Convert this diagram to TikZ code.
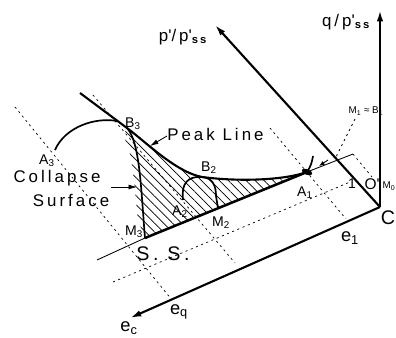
\documentclass[tikz,border=0pt]{standalone}
\usepackage{fontspec}
\setmainfont{Liberation Sans}
\newfontfamily\spacedfont[LetterSpace=18]{Liberation Sans}
\usetikzlibrary{arrows.meta,patterns.meta}

\begin{document}
\begin{tikzpicture}[x=0.025cm, y=-0.025cm, >={Latex[length=8pt,width=4.5pt]},
    axisline/.style={line width=1.5pt, ->},
    ssline/.style={line width=1.8pt},
    thinline/.style={line width=0.6pt},
    guide/.style={line width=0.5pt, dash pattern=on 1.5pt off 2.5pt},
    pathline/.style={line width=1.2pt},
    hatch/.style={pattern={Lines[angle=-45, distance=4.5pt, line width=0.5pt]}},
    txt/.style={inner sep=0pt, font=\spacedfont\fontsize{12}{14}\selectfont},
    lbl/.style={inner sep=0pt, font=\fontsize{10}{12}\selectfont}]
    \useasboundingbox (0,0) rectangle (396,337);

    % axes
    \coordinate (C) at (380,207);
    \coordinate (qtip) at (380,10);
    \coordinate (ptip) at (215,25);
    \coordinate (etip) at (130,318);
    % stress path points
    \coordinate (PL) at (80,93);
    \coordinate (B3) at (127,128);
    \coordinate (A3) at (55,150);
    \coordinate (A3end) at (117,121);
    \coordinate (B2) at (202,177);
    \coordinate (A2) at (183,200);
    \coordinate (M3) at (145,238);
    \coordinate (M2) at (218,208);
    \coordinate (A1) at (307,172);
    \coordinate (A1top) at (313,156);
    \coordinate (SSa) at (97,260);
    \coordinate (SSb) at (353,154);

    \fill[hatch] (B3) .. controls (147,143) and (176,172) .. (B2)
        .. controls (240,182) and (285,180) .. (A1) -- (M3)
        .. controls (141,190) and (140,142) .. (B3) -- cycle;
    \fill[hatch] (B3) .. controls (140,142) and (141,190) .. (M3)
        -- (138,220) .. controls (134,185) and (133,150) .. (123,136) -- cycle;

    \draw[guide] (15,107) -- (172,300);
    \draw[guide] (93,95) -- (235,263);
    \draw[guide] (113,282) -- (350,182);
    \draw[guide] (270,128) -- (346,219);
    \draw[guide] (355,119) -- (336,157);
    \draw[guide] (SSb) -- (372,177);

    \draw[axisline] (C) -- (qtip);
    \draw[axisline] (C) -- (ptip);
    \draw[axisline] (C) -- (etip);

    \draw[thinline] (SSa) -- (M3);
    \draw[thinline] (A1) -- (SSb);
    \draw[ssline] (M3) -- (A1);

    \draw[pathline, line width=1.5pt] (PL) -- (B3) .. controls (147,143) and (176,172) .. (B2)
        .. controls (240,182) and (285,180) .. (A1);
    \draw[pathline] (B3) .. controls (140,142) and (141,190) .. (M3);
    \draw[pathline] (A3) .. controls (65,127) and (95,117) .. (A3end);
    \draw[pathline] (A2) .. controls (181,183) and (188,176) .. (B2)
        .. controls (213,178) and (216,186) .. (216,196) -- (M2);
    \fill[rotate around={-22:(A1)}] (A1) ellipse [x radius=4pt, y radius=2pt];
    \draw[pathline] (A1) .. controls (311,166) and (312,162) .. (A1top);

    \coordinate (csa) at (111,187);
    \coordinate (csb) at (137,187);
    \coordinate (pla) at (167,136);
    \coordinate (plb) at (150,146);
    \coordinate (a1a) at (328,160);
    \coordinate (a1b) at (319,166);
    \draw[thinline, -{Latex[length=6pt,width=3.5pt]}] (csa) -- (csb);
    \draw[thinline, -{Latex[length=6pt,width=3.5pt]}] (pla) -- (plb);
    \draw[thinline, -{Latex[length=4pt,width=3pt]}] (a1a) -- (a1b);

    \node[txt] (plab) at (183,37) {p\textquotesingle/p\textquotesingle\textsubscript{\bfseries ss}};
    \node[txt] (qlab) at (346,22) {q/p\textquotesingle\textsubscript{\bfseries ss}};
    \node[txt, anchor=west] (peak) at (167,134) {Peak Line};
    \node[txt] (coll) at (57,178) {Collapse};
    \node[txt] (surf) at (71,200) {Surface};
    \node[lbl] (lB3) at (133,124) {B\textsubscript{3}};
    \node[lbl] (lA3) at (47,161) {A\textsubscript{3}};
    \node[lbl] (lB2) at (209,168) {B\textsubscript{2}};
    \node[lbl] (lA2) at (180,212) {A\textsubscript{2}};
    \node[lbl] (lM2) at (221,223) {M\textsubscript{2}};
    \node[lbl] (lM3) at (134,232) {M\textsubscript{3}};
    \node[lbl] (lA1) at (305,193) {A\textsubscript{1}};
    \node[lbl, font=\fontsize{7}{8}\selectfont] (lM1) at (366,111) {M\textsubscript{1} ≈ B\textsubscript{1}};
    \node[lbl] (lone) at (352,184) {1};
    \node[lbl, font=\fontsize{11}{12}\selectfont] (lO) at (372,184) {O\textquotesingle};
    \node[lbl, font=\fontsize{7}{8}\selectfont] (lM0) at (389,186) {M\textsubscript{0}};
    \node[lbl, font=\fontsize{14}{16}\selectfont] (lC) at (388,218) {C};
    \node[txt, font=\spacedfont\fontsize{14}{16}\selectfont] (lSS) at (163,254) {S. S.};
    \node[lbl, font=\fontsize{13}{14}\selectfont] (le1) at (350,238) {e\textsubscript{1}};
    \node[lbl, font=\fontsize{13}{14}\selectfont] (leq) at (179,312) {e\textsubscript{q}};
    \node[lbl, font=\fontsize{13}{14}\selectfont] (lec) at (129,328) {e\textsubscript{c}};
\end{tikzpicture}
\end{document}
